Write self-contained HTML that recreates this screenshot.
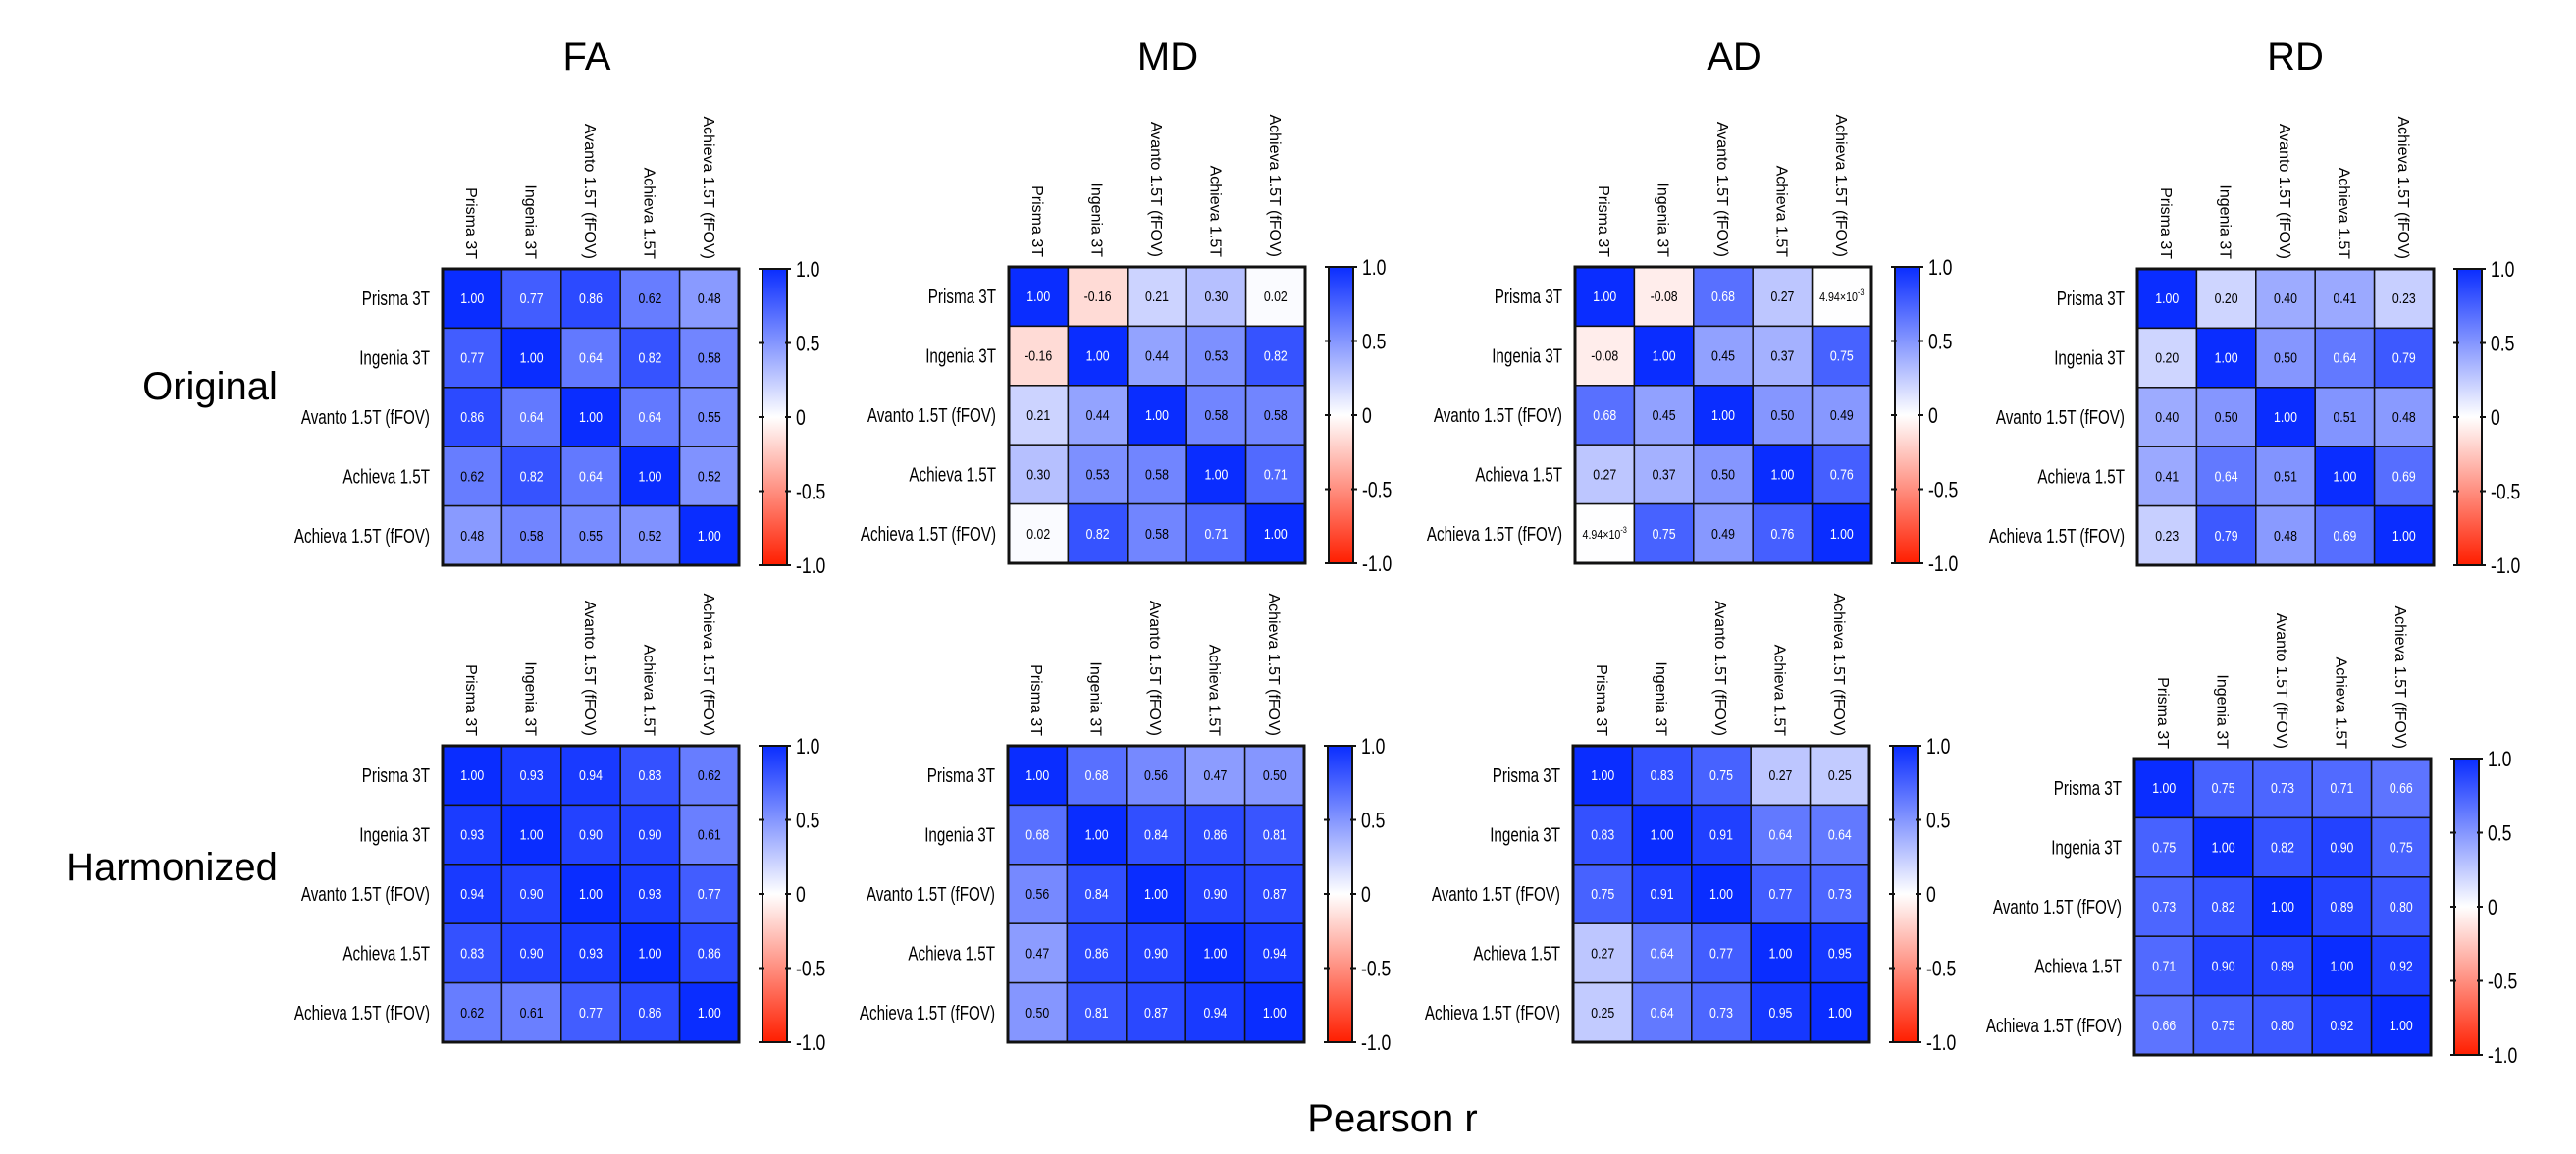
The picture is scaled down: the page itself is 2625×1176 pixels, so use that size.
<!DOCTYPE html>
<html><head><meta charset="utf-8"><style>
html,body{margin:0;padding:0;background:#fff;}
svg{display:block;}
</style></head><body>
<svg id="fig" width="2625" height="1176" viewBox="0 0 2625 1176" xmlns="http://www.w3.org/2000/svg">
<defs>
<linearGradient id="cbgrad" x1="0" y1="0" x2="0" y2="1">
<stop offset="0" stop-color="rgb(10,45,255)"/>
<stop offset="0.5" stop-color="#ffffff"/>
<stop offset="1" stop-color="rgb(255,30,0)"/>
</linearGradient>
</defs>
<g font-family="Liberation Sans, sans-serif" fill="#000">
<text x="598" y="71" font-size="40" text-anchor="middle">FA</text>
<text x="1190" y="71" font-size="40" text-anchor="middle">MD</text>
<text x="1767" y="71" font-size="40" text-anchor="middle">AD</text>
<text x="2339" y="71" font-size="40" text-anchor="middle">RD</text>
<text x="214" y="407" font-size="40" text-anchor="middle">Original</text>
<text x="175" y="897" font-size="40" text-anchor="middle">Harmonized</text>
<text x="1419" y="1153" font-size="40" text-anchor="middle">Pearson r</text>
</g>
<g id="panels"></g>
</svg>
<script>
const labels = ["Prisma 3T","Ingenia 3T","Avanto 1.5T (fFOV)","Achieva 1.5T","Achieva 1.5T (fFOV)"];
const cbTicks = [1.0, 0.5, 0, -0.5, -1.0];
const cbTickLabels = ["1.0","0.5","0","-0.5","-1.0"];
const faOrig = [[1,.77,.86,.62,.48],[.77,1,.64,.82,.58],[.86,.64,1,.64,.55],[.62,.82,.64,1,.52],[.48,.58,.55,.52,1]];
const mdOrig = [[1,-.16,.21,.30,.02],[-.16,1,.44,.53,.82],[.21,.44,1,.58,.58],[.30,.53,.58,1,.71],[.02,.82,.58,.71,1]];
const adOrig = [[1,-.08,.68,.27,.00494],[-.08,1,.45,.37,.75],[.68,.45,1,.50,.49],[.27,.37,.50,1,.76],[.00494,.75,.49,.76,1]];
const rdOrig = [[1,.20,.40,.41,.23],[.20,1,.50,.64,.79],[.40,.50,1,.51,.48],[.41,.64,.51,1,.69],[.23,.79,.48,.69,1]];
const faHarm = [[1,.93,.94,.83,.62],[.93,1,.90,.90,.61],[.94,.90,1,.93,.77],[.83,.90,.93,1,.86],[.62,.61,.77,.86,1]];
const mdHarm = [[1,.68,.56,.47,.50],[.68,1,.84,.86,.81],[.56,.84,1,.90,.87],[.47,.86,.90,1,.94],[.50,.81,.87,.94,1]];
const adHarm = [[1,.83,.75,.27,.25],[.83,1,.91,.64,.64],[.75,.91,1,.77,.73],[.27,.64,.77,1,.95],[.25,.64,.73,.95,1]];
const rdHarm = [[1,.75,.73,.71,.66],[.75,1,.82,.90,.75],[.73,.82,1,.89,.80],[.71,.90,.89,1,.92],[.66,.75,.80,.92,1]];

const NS = "http://www.w3.org/2000/svg";
const root = document.getElementById("panels");
function mk(tag, attrs, parent){const e=document.createElementNS(NS,tag);for(const k in attrs)e.setAttribute(k,attrs[k]);parent.appendChild(e);return e;}
function color(v){
  if(v>=0){const r=Math.round(255+(10-255)*v),g=Math.round(255+(45-255)*v);return `rgb(${r},${g},255)`;}
  const a=-v;return `rgb(255,${Math.round(255+(30-255)*a)},${Math.round(255*(1-a))})`;
}
function fmt(v){
  if(Math.abs(v)<0.01 && v!==0) return null;
  return v.toFixed(2);
}
function narrow(x,y,sx,attrs,parent){
  attrs.x=0;attrs.y=0;attrs.transform=`translate(${x},${y}) scale(${sx},1)`;
  return mk("text",attrs,parent);
}
const layout = [
  {name:"fa-original",data:faOrig,x:451,y:274},
  {name:"md-original",data:mdOrig,x:1028,y:272},
  {name:"ad-original",data:adOrig,x:1605,y:272},
  {name:"rd-original",data:rdOrig,x:2178,y:274},
  {name:"fa-harmonized",data:faHarm,x:451,y:760},
  {name:"md-harmonized",data:mdHarm,x:1027,y:760},
  {name:"ad-harmonized",data:adHarm,x:1603,y:760},
  {name:"rd-harmonized",data:rdHarm,x:2175,y:773}
];
const W=302,H=302,n=labels.length,cw=W/n,ch=H/n;
layout.forEach(p=>{
  const g=mk("g",{},root);
  
  
  const xs=i=>p.x+i*cw, ys=j=>p.y+j*ch;
  p.data.forEach((row,j)=>row.forEach((v,i)=>{
    const r=mk("rect",{x:xs(i),y:ys(j),width:cw,height:ch,fill:color(v),stroke:"#111","stroke-width":1.5},g);
    
    
    const s=fmt(v);
    const t=narrow(xs(i)+cw/2,ys(j)+ch/2+5,0.82,{"text-anchor":"middle","font-size":s?15:13,"font-family":"Liberation Sans, sans-serif",fill:Math.abs(v)>=0.63?"#fff":"#000"},g);
    
    
    if(s){t.textContent=s;}else{
      const m=v*1000;t.textContent=m.toFixed(2)+"\u00d710";
      const sp=mk("tspan",{dy:-6,"font-size":9},t);sp.textContent="-3";
    }
  }));
  mk("rect",{x:p.x,y:p.y,width:W,height:H,fill:"none",stroke:"#111","stroke-width":3},g);
  labels.forEach((l,j)=>{
    const t=narrow(p.x-13,ys(j)+ch/2+7,0.76,{"text-anchor":"end","font-size":20,"font-family":"Liberation Sans, sans-serif"},g);
    
    
    t.textContent=l;
  });
  labels.forEach((l,i)=>{
    const cx=xs(i)+cw/2-6, cy=p.y-10;
    const t=mk("text",{x:0,y:0,"text-anchor":"end","font-size":16,"font-family":"Liberation Sans, sans-serif",transform:`translate(${cx},${cy}) rotate(90)`},g);
    
    
    t.textContent=l;
  });
  const bx=p.x+W+24,bw=25;
  const cb=mk("rect",{x:bx,y:p.y,width:bw,height:H,fill:"url(#cbgrad)",stroke:"#111","stroke-width":2},g);
  
  
  const cy=v=>p.y+(1-v)/2*H;
  cbTicks.forEach((v,k)=>{
    mk("line",{x1:bx-4,x2:bx+2,y1:cy(v),y2:cy(v),stroke:"#111","stroke-width":2},g);
    mk("line",{x1:bx+bw-2,x2:bx+bw+4,y1:cy(v),y2:cy(v),stroke:"#111","stroke-width":2},g);
    const t=narrow(bx+bw+9,cy(v)+8,0.8,{"font-size":22,"font-family":"Liberation Sans, sans-serif"},g);
    
    
    t.textContent=cbTickLabels[k];
  });
});
</script>
</body></html>
